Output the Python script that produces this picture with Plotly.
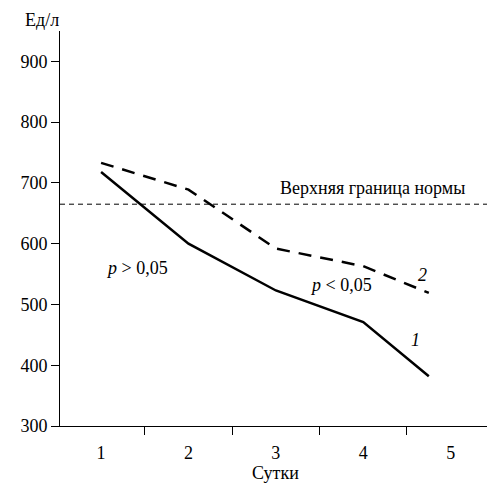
import plotly.graph_objects as go

days = [1, 2, 3, 4, 4.75]
series1 = [718, 600, 523, 471, 382]
series2 = [733, 689, 592, 563, 519]
norm_upper = 665
x_tick_vals = [1, 2, 3, 4, 5]
x_tick_text = ["1", "2", "3", "4", "5"]
y_tick_vals = [300, 400, 500, 600, 700, 800, 900]

FONT = "'Liberation Serif', 'Times New Roman', 'DejaVu Serif', serif"
FS = 18

fig = go.Figure()
fig.add_trace(go.Scatter(x=[0.53, 5.45], y=[norm_upper, norm_upper], mode="lines",
                         line=dict(color="black", width=1, dash="5px,4px"), showlegend=False))
fig.add_trace(go.Scatter(x=days, y=series2, mode="lines",
                         line=dict(color="black", width=2.5, dash="13px,9px"), showlegend=False))
fig.add_trace(go.Scatter(x=days, y=series1, mode="lines",
                         line=dict(color="black", width=2.5), showlegend=False))

ann = dict(showarrow=False, font=dict(family=FONT, size=FS, color="black"))
fig.add_annotation(x=4.10, y=norm_upper, yshift=16, text="Верхняя граница нормы", **ann)
fig.add_annotation(x=1.41, y=560, text="<i>p</i> > 0,05", **ann)
fig.add_annotation(x=3.74, y=532, text="<i>p</i> < 0,05", **ann)
fig.add_annotation(x=4.68, y=548, text="<i>2</i>", **ann)
fig.add_annotation(x=4.60, y=441, text="<i>1</i>", **ann)
fig.add_annotation(x=0, y=1, xref="paper", yref="paper", xanchor="center", yanchor="middle",
                   xshift=-18, yshift=11, text="Ед/л", **ann)
fig.add_annotation(x=3, y=0, xref="x", yref="paper", yanchor="middle", yshift=-47,
                   text="Сутки", **ann)

fig.update_layout(
    width=495, height=483,
    margin=dict(l=47, r=13, t=23, b=65),
    plot_bgcolor="white", paper_bgcolor="white",
    font=dict(family=FONT, size=FS, color="black"),
    xaxis=dict(range=[0.53, 5.45], tickmode="array", tickvals=x_tick_vals, ticktext=x_tick_text,
               ticks="outside", ticklen=10, tickcolor="rgba(0,0,0,0)",
               minor=dict(tickmode="array", tickvals=[1.5, 2.5, 3.5, 4.5], ticks="outside",
                          ticklen=8, tickcolor="black", tickwidth=1),
               showline=True, linecolor="black", linewidth=1, showgrid=False, zeroline=False),
    yaxis=dict(range=[300, 950], tickmode="array", tickvals=y_tick_vals,
               ticks="outside", ticklen=8, tickcolor="black", tickwidth=1,
               showline=True, linecolor="black", linewidth=1, showgrid=False, zeroline=False),
)

fig.write_html("out.html")
